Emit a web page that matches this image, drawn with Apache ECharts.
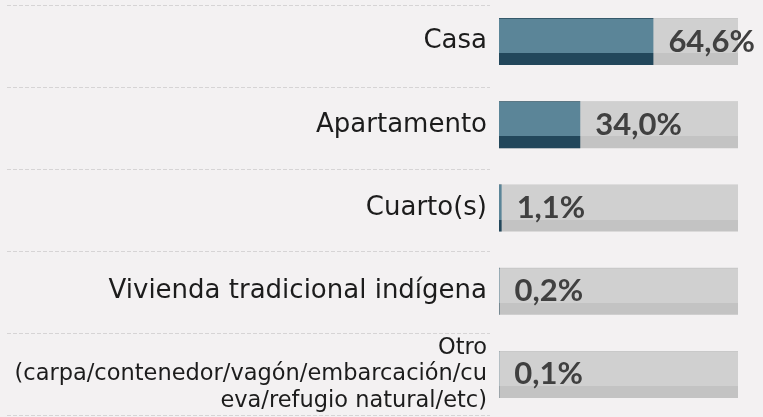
<!DOCTYPE html>
<html>
<head>
<meta charset="utf-8">
<script src="https://cdn.jsdelivr.net/npm/echarts@6/dist/echarts.min.js"></script>
<style>
  html, body { margin: 0; padding: 0; background: #f3f1f2; }
  #chart { width: 763px; height: 417px; }
</style>
</head>
<body>
<div id="chart"></div>
<script>
var categories = [
  'Casa',
  'Apartamento',
  'Cuarto(s)',
  'Vivienda tradicional indígena',
  'Otro\n(carpa/contenedor/vagón/embarcación/cu\neva/refugio natural/etc)'
];
var shares = [64.6, 34.0, 1.1, 0.2, 0.1];
var fullScale = [100, 100, 100, 100, 100];

var myChart = echarts.init(document.getElementById('chart'));

// last category is wrapped on three lines and uses a smaller font
var yData = categories.map(function (c, i) {
  if (i === categories.length - 1) {
    return { value: c, textStyle: { fontSize: 22.5, lineHeight: 26.5 } };
  }
  return c;
});

var option = {
  backgroundColor: '#f3f1f2',
  animation: false,
  grid: [
    { left: 499, right: 25, top: -2, bottom: 1 },
    // only used for the dashed separators under the labels
    { left: 7, right: 273, top: 5, bottom: 2 }
  ],
  xAxis: [
    { type: 'value', min: 0, max: 100, show: false, gridIndex: 0 },
    { type: 'value', min: 0, max: 1, show: false, gridIndex: 1 }
  ],
  yAxis: [
    {
      type: 'category',
      gridIndex: 0,
      inverse: true,
      data: yData,
      axisLine: { show: false },
      axisTick: { show: false },
      splitLine: { show: false },
      axisLabel: {
        margin: 12,
        color: '#1c1c1c',
        fontFamily: 'DejaVu Sans',
        fontSize: 26,
        align: 'right'
      }
    },
    {
      type: 'category',
      gridIndex: 1,
      inverse: true,
      data: categories,
      axisLine: { show: false },
      axisTick: { show: false },
      axisLabel: { show: false },
      splitLine: {
        show: true,
        lineStyle: { color: '#d6d4d5', type: [4, 2], width: 1 }
      }
    }
  ],
  series: [
    {
      name: 'fondo',
      type: 'bar',
      xAxisIndex: 0,
      yAxisIndex: 0,
      barWidth: 47,
      silent: true,
      data: fullScale,
      itemStyle: {
        color: {
          type: 'linear', x: 0, y: 0, x2: 0, y2: 1,
          colorStops: [
            { offset: 0, color: '#c9c9c9' },
            { offset: 0.02, color: '#c9c9c9' },
            { offset: 0.02, color: '#d0d0d0' },
            { offset: 0.745, color: '#d0d0d0' },
            { offset: 0.745, color: '#c3c3c3' },
            { offset: 1, color: '#c3c3c3' }
          ]
        }
      }
    },
    {
      name: 'Participación',
      type: 'bar',
      xAxisIndex: 0,
      yAxisIndex: 0,
      barWidth: 47,
      barGap: '-100%',
      data: shares,
      itemStyle: {
        color: {
          type: 'linear', x: 0, y: 0, x2: 0, y2: 1,
          colorStops: [
            { offset: 0, color: '#34596b' },
            { offset: 0.02, color: '#34596b' },
            { offset: 0.02, color: '#5b8598' },
            { offset: 0.745, color: '#5b8598' },
            { offset: 0.745, color: '#22475b' },
            { offset: 1, color: '#22475b' }
          ]
        }
      },
      label: {
        show: true,
        position: 'right',
        distance: 15,
        color: '#404040',
        fontFamily: 'Lato',
        fontWeight: 'bold',
        fontSize: 31,
        formatter: function (p) {
          return p.value.toFixed(1).replace('.', ',') + '%';
        }
      }
    }
  ]
};

myChart.setOption(option);
</script>
</body>
</html>
